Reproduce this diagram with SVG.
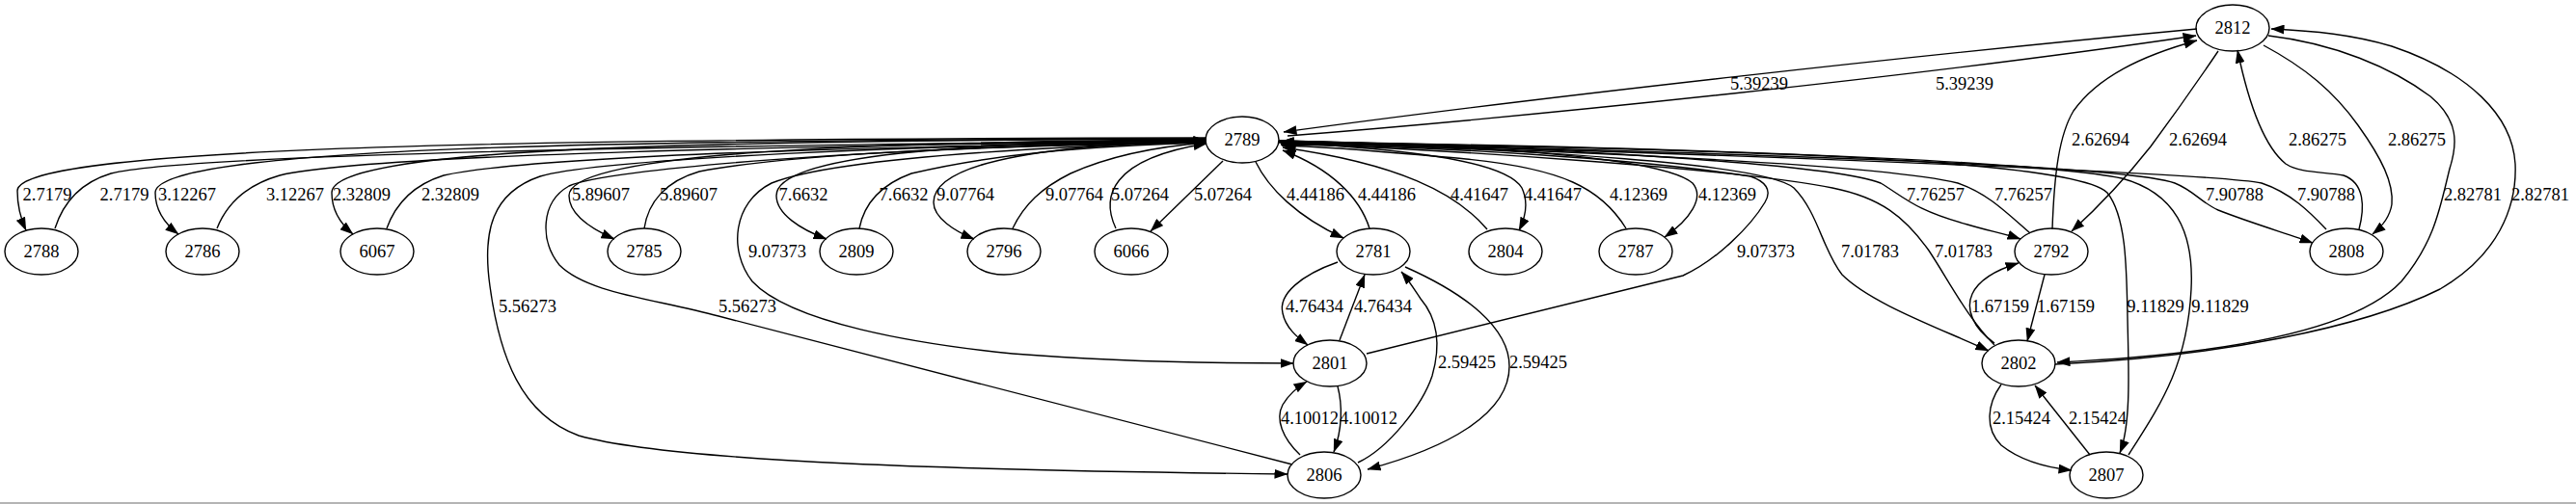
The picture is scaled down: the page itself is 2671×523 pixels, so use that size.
<svg xmlns="http://www.w3.org/2000/svg" width="2671" height="523" viewBox="0 0 2671 523">
<style>
.n ellipse{fill:none;stroke:#000;stroke-width:1.4}
text{font-family:"Liberation Serif","Times New Roman",serif;font-size:18.5px;fill:#000;text-anchor:middle}
#edges path{fill:none;stroke:#000;stroke-width:1.4;marker-end:url(#ah)}
</style>
<defs>
<marker id="ah" markerUnits="userSpaceOnUse" markerWidth="14" markerHeight="10" refX="13.5" refY="5" orient="auto">
<path d="M0,0 L14,5 L0,10 z" fill="#000"/>
</marker>
</defs>
<rect x="0" y="0" width="2671" height="523" fill="#fff"/>
<line x1="0" y1="522" x2="2671" y2="522" stroke="#b4b4b4" stroke-width="2"/>
<g id="edges">
<path d="M1251,143 C600,144 18,150 18,198 C18,215 22,228 27,239"/>
<path d="M57,237 C65,212 82,190 115,180 C200,158 800,150 1251,146"/>
<path d="M1251,144 C650,145 161,152 161,200 C161,218 172,233 185,243"/>
<path d="M225,237 C235,212 255,192 290,182 C380,160 850,151 1251,146"/>
<path d="M1251,144 C700,146 344,154 344,200 C344,218 354,233 366,243"/>
<path d="M401,237 C410,212 428,192 460,182 C550,162 900,152 1251,147"/>
<path d="M1251,145 C900,147 590,158 590,203 C590,222 612,237 637,248"/>
<path d="M668,237 C672,210 690,188 725,178 C820,160 1000,152 1251,147"/>
<path d="M1251,145 C1000,148 805,160 805,203 C805,222 830,238 857,248"/>
<path d="M891,237 C896,212 912,192 945,180 C1030,160 1120,152 1251,148"/>
<path d="M1251,146 C1100,150 968,165 968,210 C968,226 990,240 1010,248"/>
<path d="M1050,237 C1062,212 1080,195 1110,180 C1150,162 1200,152 1251,148"/>
<path d="M1157,237 C1142,205 1150,165 1251,149"/>
<path d="M1268,167 L1193,240"/>
<path d="M1251,147 C950,150 620,165 560,183 C510,200 500,240 508,297 C518,370 540,430 600,452 C700,480 1000,488 1335,492"/>
<path d="M1340,482 L745,328 C680,310 610,305 580,275 C560,250 560,210 590,193 C625,176 900,152 1251,148"/>
<path d="M1251,147 C1000,155 850,170 800,190 C760,210 755,260 780,292 C820,335 950,357 1050,367 C1150,375 1250,377 1341,377"/>
<path d="M1417,367 L1745,286 C1780,270 1815,235 1830,210 C1838,197 1830,188 1815,183 C1700,165 1500,152 1328,150"/>
<path d="M2278,30 C2000,56 1600,100 1331,137"/>
<path d="M1335,141 C1600,120 2000,78 2277,37"/>
<path d="M1302,168 C1315,195 1345,225 1393,247"/>
<path d="M1420,237 C1410,205 1380,175 1330,156"/>
<path d="M1542,238 C1510,200 1450,170 1330,153"/>
<path d="M1326,147 C1450,155 1560,165 1578,195 C1585,210 1582,225 1575,239"/>
<path d="M1686,237 C1660,195 1620,175 1520,165 C1440,158 1380,152 1329,151"/>
<path d="M1326,146 C1500,150 1720,160 1755,190 C1768,205 1752,228 1726,246"/>
<path d="M1326,146 C1600,152 1900,170 1950,190 C1975,205 1985,218 2040,233 C2060,239 2080,243 2095,248"/>
<path d="M2105,242 C2080,220 2060,200 2030,190 C1950,170 1600,155 1328,148"/>
<path d="M1326,146 C1800,160 2200,170 2255,190 C2275,198 2282,210 2300,218 C2330,230 2370,242 2398,252"/>
<path d="M2412,238 C2395,220 2375,200 2345,190 C2300,180 1800,160 1328,147"/>
<path d="M1326,148 C1600,155 1830,170 1860,195 C1885,220 1890,260 1910,285 C1940,315 2010,340 2062,364"/>
<path d="M2068,358 C2040,330 2020,290 2000,260 C1975,225 1950,205 1900,195 C1800,175 1500,155 1328,149"/>
<path d="M1326,147 C1800,155 2150,165 2185,200 C2205,225 2205,280 2206,330 C2207,380 2210,440 2198,470"/>
<path d="M2207,472 C2240,420 2268,380 2272,300 C2275,240 2255,200 2200,185 C2100,165 1700,152 1328,147"/>
<path d="M2128,238 C2130,180 2135,140 2150,115 C2175,80 2220,58 2278,42"/>
<path d="M2300,53 C2275,90 2250,125 2230,152 C2200,190 2170,220 2148,240"/>
<path d="M2347,47 C2390,70 2420,95 2445,130 C2470,165 2482,190 2480,212 C2478,225 2470,235 2460,243"/>
<path d="M2446,238 C2452,215 2452,190 2430,182 C2410,178 2385,180 2370,170 C2345,150 2330,100 2320,52"/>
<path d="M2352,37 C2420,45 2480,70 2520,100 C2550,125 2548,150 2540,175 C2530,215 2525,250 2490,292 C2440,345 2300,368 2133,376"/>
<path d="M2131,378 C2300,370 2450,340 2530,300 C2590,265 2610,215 2608,170 C2605,120 2560,75 2480,48 C2440,36 2400,32 2355,30"/>
<path d="M2068,356 C2045,340 2038,320 2045,305 C2052,290 2070,280 2093,273"/>
<path d="M2120,285 L2102,354"/>
<path d="M2075,399 C2060,420 2058,445 2075,462 C2095,478 2120,485 2148,488"/>
<path d="M2167,472 L2110,400"/>
<path d="M1387,272 C1350,285 1325,305 1330,325 C1333,340 1345,350 1356,358"/>
<path d="M1389,353 L1415,285"/>
<path d="M1408,480 C1440,465 1475,420 1485,390 C1495,355 1490,330 1473,310 C1465,298 1460,290 1453,282"/>
<path d="M1457,277 C1520,305 1565,340 1565,380 C1565,430 1500,465 1418,487"/>
<path d="M1348,472 C1330,455 1322,435 1330,420 C1336,410 1343,403 1355,396"/>
<path d="M1387,401 C1392,420 1392,445 1383,469"/>
</g>
<g id="edge-labels">
<text x="49" y="208">2.7179</text><text x="129" y="208">2.7179</text>
<text x="194" y="208">3.12267</text><text x="306" y="208">3.12267</text>
<text x="375" y="208">2.32809</text><text x="467" y="208">2.32809</text>
<text x="623" y="208">5.89607</text><text x="714" y="208">5.89607</text>
<text x="833" y="208">7.6632</text><text x="937" y="208">7.6632</text>
<text x="1001" y="208">9.07764</text><text x="1114" y="208">9.07764</text>
<text x="1182" y="208">5.07264</text><text x="1268" y="208">5.07264</text>
<text x="1364" y="208">4.44186</text><text x="1438" y="208">4.44186</text>
<text x="1534" y="208">4.41647</text><text x="1610" y="208">4.41647</text>
<text x="1699" y="208">4.12369</text><text x="1791" y="208">4.12369</text>
<text x="2007" y="208">7.76257</text><text x="2098" y="208">7.76257</text>
<text x="2317" y="208">7.90788</text><text x="2412" y="208">7.90788</text>
<text x="2564" y="208">2.82781</text><text x="2634" y="208">2.82781</text>
<text x="2178" y="151">2.62694</text><text x="2279" y="151">2.62694</text>
<text x="2403" y="151">2.86275</text><text x="2506" y="151">2.86275</text>
<text x="1824" y="93">5.39239</text><text x="2037" y="93">5.39239</text>
<text x="806" y="267">9.07373</text><text x="1831" y="267">9.07373</text>
<text x="1939" y="267">7.01783</text><text x="2036" y="267">7.01783</text>
<text x="547" y="324">5.56273</text><text x="775" y="324">5.56273</text>
<text x="1363" y="324">4.76434</text><text x="1434" y="324">4.76434</text>
<text x="2074" y="324">1.67159</text><text x="2142" y="324">1.67159</text>
<text x="2235" y="324">9.11829</text><text x="2302" y="324">9.11829</text>
<text x="1521" y="382">2.59425</text><text x="1595" y="382">2.59425</text>
<text x="1358" y="440">4.10012</text><text x="1419" y="440">4.10012</text>
<text x="2096" y="440">2.15424</text><text x="2175" y="440">2.15424</text>
</g>
<g id="n2812" class="n"><ellipse cx="2315" cy="29" rx="38" ry="24"/><text x="2315" y="35">2812</text></g>
<g id="n2789" class="n"><ellipse cx="1288" cy="145" rx="38" ry="24"/><text x="1288" y="151">2789</text></g>
<g id="n2788" class="n"><ellipse cx="43" cy="261" rx="38" ry="24"/><text x="43" y="267">2788</text></g>
<g id="n2786" class="n"><ellipse cx="210" cy="261" rx="38" ry="24"/><text x="210" y="267">2786</text></g>
<g id="n6067" class="n"><ellipse cx="391" cy="261" rx="38" ry="24"/><text x="391" y="267">6067</text></g>
<g id="n2785" class="n"><ellipse cx="668" cy="261" rx="38" ry="24"/><text x="668" y="267">2785</text></g>
<g id="n2809" class="n"><ellipse cx="888" cy="261" rx="38" ry="24"/><text x="888" y="267">2809</text></g>
<g id="n2796" class="n"><ellipse cx="1041" cy="261" rx="38" ry="24"/><text x="1041" y="267">2796</text></g>
<g id="n6066" class="n"><ellipse cx="1173" cy="261" rx="38" ry="24"/><text x="1173" y="267">6066</text></g>
<g id="n2781" class="n"><ellipse cx="1424" cy="261" rx="38" ry="24"/><text x="1424" y="267">2781</text></g>
<g id="n2804" class="n"><ellipse cx="1561" cy="261" rx="38" ry="24"/><text x="1561" y="267">2804</text></g>
<g id="n2787" class="n"><ellipse cx="1696" cy="261" rx="38" ry="24"/><text x="1696" y="267">2787</text></g>
<g id="n2792" class="n"><ellipse cx="2127" cy="261" rx="38" ry="24"/><text x="2127" y="267">2792</text></g>
<g id="n2808" class="n"><ellipse cx="2433" cy="261" rx="38" ry="24"/><text x="2433" y="267">2808</text></g>
<g id="n2801" class="n"><ellipse cx="1379" cy="377" rx="38" ry="24"/><text x="1379" y="383">2801</text></g>
<g id="n2802" class="n"><ellipse cx="2093" cy="377" rx="38" ry="24"/><text x="2093" y="383">2802</text></g>
<g id="n2806" class="n"><ellipse cx="1373" cy="493" rx="38" ry="24"/><text x="1373" y="499">2806</text></g>
<g id="n2807" class="n"><ellipse cx="2184" cy="493" rx="38" ry="24"/><text x="2184" y="499">2807</text></g>
</svg>
